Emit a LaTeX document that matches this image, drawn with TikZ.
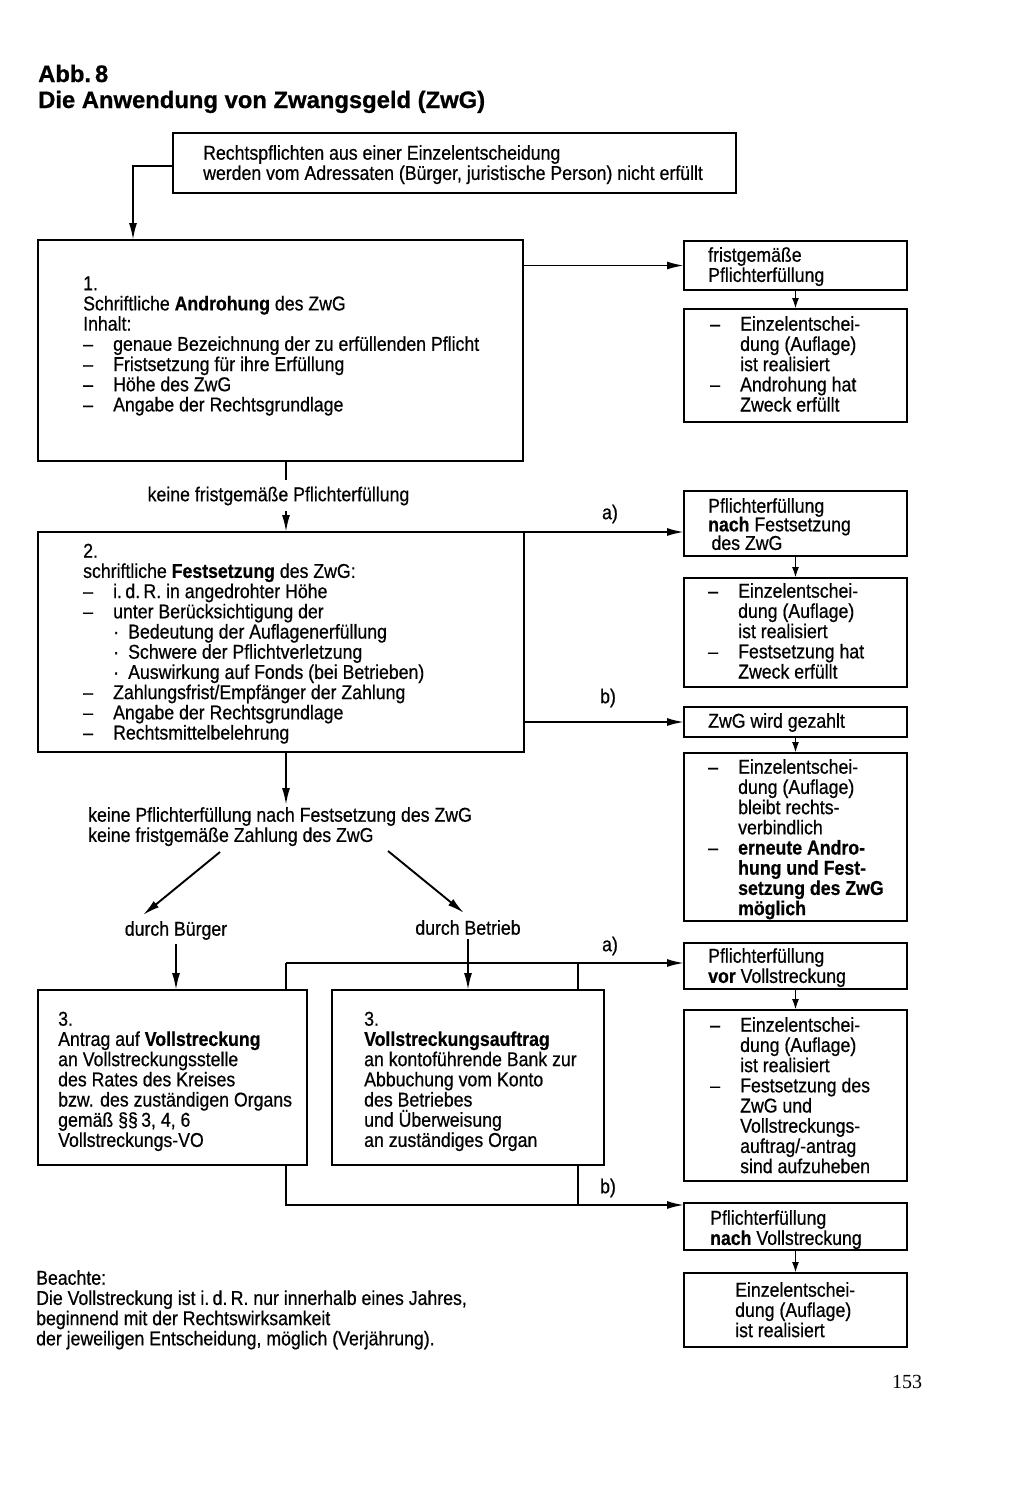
\documentclass[tikz,border=0pt]{standalone}
\usepackage{fontspec}
\setmainfont{Liberation Sans}[FakeStretch=0.885, UprightFeatures={FakeBold=0.6}, BoldFeatures={FakeBold=0.6}]
\newfontfamily\titlefont{Liberation Sans}[BoldFeatures={FakeBold=0.8}]
\newfontfamily\pagefont{Liberation Serif}
\usetikzlibrary{arrows.meta,calc}
\newcommand\bodyfont{\fontsize{20}{20.2}\selectfont\lineskiplimit=-100pt\lineskip=0pt}
\newcommand\tightfont{\fontsize{20}{18.6}\selectfont\lineskiplimit=-100pt\lineskip=0pt}
\newcommand\st{\rule{0pt}{15pt}}
\newcommand\di{\makebox[30pt][l]{–}}
\newcommand\ind{\hspace*{30pt}}
\newcommand\bu{\hspace*{30pt}\makebox[15pt][l]{·}}
\tikzset{
  box/.style={draw, line width=2.2pt, rectangle, inner sep=0pt, outer sep=0pt, anchor=north west},
  txt/.style={inner sep=0pt, align=left, font=\bodyfont, anchor=north west},
  lbl/.style={inner sep=0pt, font=\bodyfont},
  ln/.style={line width=1.9pt},
  arr/.style={line width=1.9pt, -{Latex[length=17pt,width=8pt]}},
  sarr/.style={line width=1.9pt, -{Latex[length=11pt,width=7pt]}}
}
\begin{document}
\begin{tikzpicture}[x=1pt,y=-1pt]
\useasboundingbox (0,0) rectangle (1024,1497);
% title
\node[anchor=base west, inner sep=0pt, font=\titlefont\bfseries\fontsize{23.8}{26}\selectfont] (t1) at (38,82) {Abb.\,8};
\node[anchor=base west, inner sep=0pt, font=\titlefont\bfseries\fontsize{23.8}{26}\selectfont] (t2) at (38,108) {Die Anwendung von Zwangsgeld (ZwG)};
% boxes
\node[box, minimum width=563, minimum height=60] (top) at (173,133) {};
\node[box, minimum width=485, minimum height=221] (b1) at (38,240) {};
\node[box, minimum width=223, minimum height=49] (r1) at (684,241) {};
\node[box, minimum width=223, minimum height=113] (r1b) at (684,309) {};
\node[box, minimum width=486, minimum height=220] (b2) at (38,532) {};
\node[box, minimum width=223, minimum height=65] (r2) at (684,491) {};
\node[box, minimum width=223, minimum height=109] (r2b) at (684,578) {};
\node[box, minimum width=223, minimum height=30] (r3) at (684,707) {};
\node[box, minimum width=223, minimum height=168] (r3b) at (684,753) {};
\node[box, minimum width=269, minimum height=175] (b3l) at (38,990) {};
\node[box, minimum width=272, minimum height=175] (b3r) at (332,990) {};
\node[box, minimum width=223, minimum height=46] (r4) at (684,943) {};
\node[box, minimum width=223, minimum height=171] (r4b) at (684,1010) {};
\node[box, minimum width=223, minimum height=47] (r5) at (684,1203) {};
\node[box, minimum width=223, minimum height=74] (r5b) at (684,1273) {};
% texts
\node[txt] (ttop) at (203,144.5) {\st Rechtspflichten aus einer Einzelentscheidung\\werden vom Adressaten (Bürger, juristische Person) nicht erfüllt};
\node[txt] (tb1) at (83,275) {\st 1.\\Schriftliche \textbf{Androhung} des ZwG\\Inhalt:\\\di genaue Bezeichnung der zu erfüllenden Pflicht\\\di Fristsetzung für ihre Erfüllung\\\di Höhe des ZwG\\\di Angabe der Rechtsgrundlage};
\node[txt] (tr1) at (708,246.5) {\st fristgemäße\\Pflichterfüllung};
\node[txt] (tr1b) at (710,315.5) {\st\di Einzelentschei-\\\ind dung (Auflage)\\\ind ist realisiert\\\di Androhung hat\\\ind Zweck erfüllt};
\node[lbl, anchor=north] (l1) at (278.5,486) {\st keine fristgemäße Pflichterfüllung};
\node[txt] (tb2) at (83,542.5) {\st 2.\\schriftliche \textbf{Festsetzung} des ZwG:\\\di i.\,d.\,R. in angedrohter Höhe\\\di unter Berücksichtigung der\\\bu Bedeutung der Auflagenerfüllung\\\bu Schwere der Pflichtverletzung\\\bu Auswirkung auf Fonds (bei Betrieben)\\\di Zahlungsfrist/Empfänger der Zahlung\\\di Angabe der Rechtsgrundlage\\\di Rechtsmittelbelehrung};
\node[txt, font=\tightfont] (tr2) at (708,497.5) {\st Pflichterfüllung\\\textbf{nach} Festsetzung\\\,des ZwG};
\node[txt] (tr2b) at (708,582.5) {\st\di Einzelentschei-\\\ind dung (Auflage)\\\ind ist realisiert\\\di Festsetzung hat\\\ind Zweck erfüllt};
\node[txt] (tr3) at (708,712.5) {\st ZwG wird gezahlt};
\node[txt] (tr3b) at (708,758.5) {\st\di Einzelentschei-\\\ind dung (Auflage)\\\ind bleibt rechts-\\\ind verbindlich\\\di \textbf{erneute Andro-}\\\ind \textbf{hung und Fest-}\\\ind \textbf{setzung des ZwG}\\\ind \textbf{möglich}};
\node[txt] (l2) at (88,806.5) {\st keine Pflichterfüllung nach Festsetzung des ZwG\\keine fristgemäße Zahlung des ZwG};
\node[lbl, anchor=north] (bur) at (176,920.5) {\st durch Bürger};
\node[lbl, anchor=north] (bet) at (468,919.5) {\st durch Betrieb};
\node[txt] (tb3l) at (58,1010.5) {\st 3.\\Antrag auf \textbf{Vollstreckung}\\an Vollstreckungsstelle\\des Rates des Kreises\\bzw. des zuständigen Organs\\gemäß §§\,3, 4, 6\\Vollstreckungs-VO};
\node[txt] (tb3r) at (364,1010.5) {\st 3.\\\textbf{Vollstreckungsauftrag}\\an kontoführende Bank zur\\Abbuchung vom Konto\\des Betriebes\\und Überweisung\\an zuständiges Organ};
\node[txt] (tr4) at (708,947.5) {\st Pflichterfüllung\\\textbf{vor} Vollstreckung};
\node[txt] (tr4b) at (710,1016.5) {\st\di Einzelentschei-\\\ind dung (Auflage)\\\ind ist realisiert\\\di Festsetzung des\\\ind ZwG und\\\ind Vollstreckungs-\\\ind auftrag/-antrag\\\ind sind aufzuheben};
\node[txt] (tr5) at (710,1209.5) {\st Pflichterfüllung\\\textbf{nach} Vollstreckung};
\node[txt] (tr5b) at (735,1281.5) {\st Einzelentschei-\\dung (Auflage)\\ist realisiert};
\node[txt] (note) at (36,1269.5) {\st Beachte:\\Die Vollstreckung ist i.\,d.\,R. nur innerhalb eines Jahres,\\beginnend mit der Rechtswirksamkeit\\der jeweiligen Entscheidung, möglich (Verjährung).};
\node[lbl] (la1) at (610,514) {a)};
\node[lbl] (lb1) at (608,698) {b)};
\node[lbl] (la2) at (610,946) {a)};
\node[lbl] (lb2) at (608,1188) {b)};
\node[inner sep=0pt, font=\pagefont\fontsize{20}{22}\selectfont] (pg) at (907,1382) {153};
% connector points
\coordinate (c1) at (286,480);
\coordinate (c2) at (286,511);
\coordinate (c3) at (286,805);
\coordinate (d1) at (220,852);
\coordinate (d2) at (143,915);
\coordinate (d3) at (388,851);
\coordinate (d4) at (464,913);
\coordinate (j1) at (286,963);
\coordinate (j2) at (578,963);
\coordinate (j3) at (286,1205);
\coordinate (j4) at (578,1205);
% connectors
\draw[arr] ([yshift=-3pt]top.west) -| ($(b1.north west)+(95,0)$);
\draw[arr] (b1.east |- r1.west) -- (r1.west);
\draw[sarr] (r1.south) -- (r1b.north);
\draw[ln] (b1.south -| c1) -- (c1);
\draw[arr] (c2) -- (c2 |- b2.north);
\draw[arr] (b2.north east) -- (b2.north east -| r2.west);
\draw[sarr] (r2.south) -- (r2b.north);
\draw[arr] (b2.east |- r3.west) -- (r3.west);
\draw[sarr] (r3.south) -- (r3b.north);
\draw[arr] (b2.south -| c3) -- (c3);
\draw[arr] (d1) -- (d2);
\draw[arr] (d3) -- (d4);
\draw[arr] ([yshift=-4pt]bur.south) -- (bur.south |- b3l.north);
\draw[arr] ([yshift=-4pt]bet.south) -- (bet.south |- b3r.north);
\draw[ln] (b3l.north -| j1) -- (j1);
\draw[ln] (b3r.north -| j2) -- (j2);
\draw[arr] (j1) -- (j1 -| r4.west);
\draw[sarr] (r4.south) -- (r4b.north);
\draw[ln] (b3r.south -| j4) -- (j4);
\draw[arr] (b3l.south -| j3) -- (j3) -- (j3 -| r5.west);
\draw[sarr] (r5.south) -- (r5b.north);
\end{tikzpicture}
\end{document}
